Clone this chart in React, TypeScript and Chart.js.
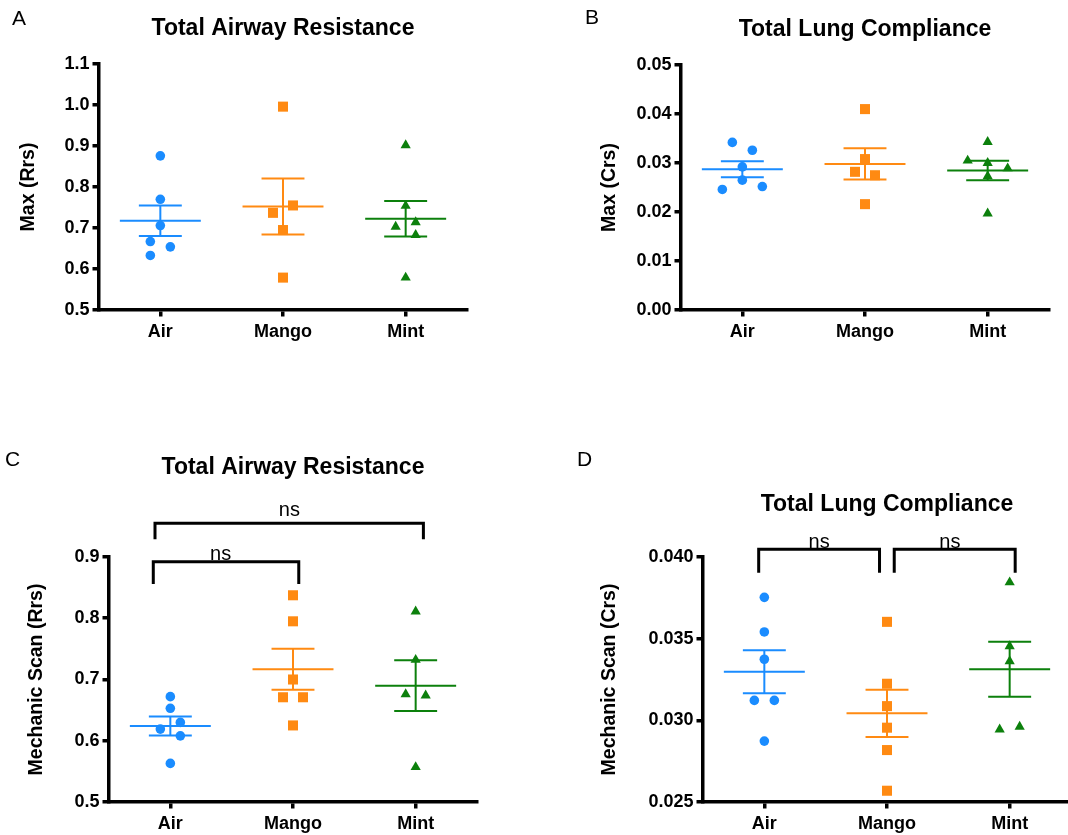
import React, { useEffect, useRef } from 'react';
import { Chart, registerables } from 'chart.js';

Chart.register(...registerables);

const FONT = '"Liberation Sans", Arial, Helvetica, sans-serif';
Chart.defaults.font.family = FONT;

// ---------- data ----------
const groups = ['Air', 'Mango', 'Mint'];

// A: Max (Rrs)
const aAir = [0.876, 0.770, 0.706, 0.654, 0.667, 0.633];
const aMango = [0.996, 0.755, 0.737, 0.695, 0.579];
const aMint = [0.902, 0.754, 0.714, 0.703, 0.683, 0.579];
const aTicks = [0.5, 0.6, 0.7, 0.8, 0.9, 1.0, 1.1];

// B: Max (Crs)
const bAir = [0.0326, 0.0342, 0.0292, 0.0265, 0.0246, 0.0252];
const bMango = [0.0410, 0.0308, 0.0275, 0.0282, 0.0216];
const bMint = [0.0343, 0.0300, 0.0305, 0.0289, 0.0273, 0.0197];
const bTicks = [0, 0.01, 0.02, 0.03, 0.04, 0.05];

// C: Mechanic Scan (Rrs)
const cAir = [0.672, 0.653, 0.630, 0.619, 0.608, 0.563];
const cMango = [0.8375, 0.795, 0.700, 0.671, 0.671, 0.625];
const cMint = [0.811, 0.732, 0.674, 0.676, 0.557];
const cTicks = [0.5, 0.6, 0.7, 0.8, 0.9];

// D: Mechanic Scan (Crs)
const dAir = [0.03753, 0.03541, 0.03374, 0.03122, 0.03122, 0.02873];
const dMango = [0.03603, 0.03224, 0.03087, 0.02955, 0.02818, 0.02569];
const dMint = [0.03845, 0.03454, 0.03362, 0.02961, 0.02944];
const dTicks = [0.025, 0.030, 0.035, 0.040];

// significance brackets (category index, y in data units)
const cBrackets = [
  { from: 0, fromShift: -0.125, to: 2, toShift: 0.063, y: 0.955, leg: 0.929, label: 'ns', labelAt: 0.97, labelY: 0.967 },
  { from: 0, fromShift: -0.139, to: 1, toShift: 0.047, y: 0.8923, leg: 0.8559, label: 'ns', labelAt: 0.41, labelY: 0.8951 },
];
const dBrackets = [
  { from: 0, fromShift: -0.046, to: 1, toShift: -0.061, y: 0.04047, leg: 0.03904, label: 'ns', labelAt: 0.447, labelY: 0.04053 },
  { from: 1, fromShift: 0.059, to: 2, toShift: 0.045, y: 0.04047, leg: 0.03904, label: 'ns', labelAt: 1.513, labelY: 0.04053 },
];

// ---------- styles ----------
const COLORS = ['#1a8cff', '#ff8a12', '#0c800c'];
const STYLES = ['circle', 'rect', 'triangle'];
const RADII = [4.8, 7.1, 5.9];

type Bracket = typeof cBrackets[number];
type Spec = {
  letter: string; title: string; yTitle: string;
  series: number[][]; ticks: number[]; decimals: number;
  canvas: { left: number; top: number; w: number; h: number };
  plot: { l: number; r: number; t: number; b: number };
  titleCY: number; yTitleCX: number; letterX: number; letterCY: number;
  brackets: Bracket[];
};

const panels: Spec[] = [
  {
    letter: 'A', title: 'Total Airway Resistance', yTitle: 'Max (Rrs)',
    series: [aAir, aMango, aMint], ticks: aTicks, decimals: 1,
    canvas: { left: 0, top: 0, w: 534, h: 420 }, plot: { l: 99, r: 467, t: 64, b: 310 },
    titleCY: 28.5, yTitleCX: 29, letterX: 12, letterCY: 19, brackets: [],
  },
  {
    letter: 'B', title: 'Total Lung Compliance', yTitle: 'Max (Crs)',
    series: [bAir, bMango, bMint], ticks: bTicks, decimals: 2,
    canvas: { left: 534, top: 0, w: 534, h: 420 }, plot: { l: 681, r: 1049, t: 65, b: 310 },
    titleCY: 29.5, yTitleCX: 610, letterX: 585, letterCY: 18, brackets: [],
  },
  {
    letter: 'C', title: 'Total Airway Resistance', yTitle: 'Mechanic Scan (Rrs)',
    series: [cAir, cMango, cMint], ticks: cTicks, decimals: 1,
    canvas: { left: 0, top: 420, w: 534, h: 415 }, plot: { l: 109, r: 477, t: 557, b: 802 },
    titleCY: 468, yTitleCX: 37, letterX: 5, letterCY: 460, brackets: cBrackets,
  },
  {
    letter: 'D', title: 'Total Lung Compliance', yTitle: 'Mechanic Scan (Crs)',
    series: [dAir, dMango, dMint], ticks: dTicks, decimals: 3,
    canvas: { left: 534, top: 420, w: 546, h: 415 }, plot: { l: 703, r: 1071, t: 557, b: 802 },
    titleCY: 504.5, yTitleCX: 610, letterX: 577, letterCY: 460, brackets: dBrackets,
  },
];

// ---------- helpers ----------
const mean = (v: number[]) => v.reduce((a, b) => a + b, 0) / v.length;
const sem = (v: number[]) => {
  const m = mean(v);
  const sd = Math.sqrt(v.reduce((a, b) => a + (b - m) * (b - m), 0) / (v.length - 1));
  return sd / Math.sqrt(v.length);
};

// simple bee-swarm: returns horizontal pixel offsets
function swarm(py: number[], T: number, spacing: number): number[] {
  const n = py.length;
  const slot: number[] = new Array(n).fill(0);
  const cands = [0, -1, 1, -2, 2, -3, 3];
  for (let i = 0; i < n; i++) {
    for (const c of cands) {
      let ok = true;
      for (let j = 0; j < i; j++) {
        if (slot[j] === c && Math.abs(py[j] - py[i]) < T) { ok = false; break; }
      }
      if (ok) { slot[i] = c; break; }
    }
  }
  const order = py.map((_, i) => i).sort((a, b) => py[a] - py[b]);
  const comps: number[][] = [];
  let cur: number[] = [];
  order.forEach((i, k) => {
    if (k > 0 && py[i] - py[order[k - 1]] >= T) { comps.push(cur); cur = []; }
    cur.push(i);
  });
  if (cur.length) comps.push(cur);
  const pos = slot.slice();
  comps.forEach((comp) => {
    const set = new Set(comp.map((i) => slot[i]));
    if (set.size === 2 && set.has(0) && (set.has(-1) || set.has(1))) {
      const side = set.has(-1) ? -1 : 1;
      comp.forEach((i) => { pos[i] = slot[i] === 0 ? -side * 0.5 : side * 0.5; });
    }
  });
  return pos.map((p) => p * spacing);
}

const MEAN_HALF = 0.33;
const CAP_HALF = 0.175;

function Panel({ spec }: { spec: Spec }) {
  const ref = useRef<HTMLCanvasElement>(null);
  const cv = spec.canvas;
  useEffect(() => {
    const canvas = ref.current;
    if (!canvas) return;
    const pl = spec.plot;
    const xAxisH = 36;
    const titleSize = 23;
    const titleLH = titleSize * 1.2;
    const tPadTop = spec.titleCY - cv.top - titleLH / 2;
    const tPadBottom = pl.t - cv.top - (tPadTop + titleLH);
    const yTitleSize = 19.5;
    const ytPad = spec.yTitleCX - cv.left - (yTitleSize * 1.2) / 2;

    const datasets: any[] = [];
    spec.series.forEach((vals, g) => {
      datasets.push({
        label: groups[g],
        data: vals.map((v) => ({ x: g, y: v })),
        pointStyle: STYLES[g],
        pointRadius: RADII[g],
        pointHoverRadius: RADII[g],
        backgroundColor: COLORS[g],
        borderColor: COLORS[g],
        borderWidth: 0,
        order: 0,
      });
    });
    spec.series.forEach((vals, g) => {
      const m = mean(vals);
      const s = sem(vals);
      datasets.push({
        label: groups[g] + ' mean ± SEM',
        data: [
          { x: g - MEAN_HALF, y: m }, { x: g + MEAN_HALF, y: m }, { x: g, y: null },
          { x: g - CAP_HALF, y: m + s }, { x: g + CAP_HALF, y: m + s }, { x: g, y: null },
          { x: g - CAP_HALF, y: m - s }, { x: g + CAP_HALF, y: m - s }, { x: g, y: null },
          { x: g, y: m + s }, { x: g, y: m - s },
        ],
        showLine: true,
        spanGaps: false,
        borderColor: COLORS[g],
        backgroundColor: COLORS[g],
        borderWidth: 2,
        pointRadius: 0,
        pointHoverRadius: 0,
        order: 1,
      });
    });

    const annot = {
      id: 'panelAnnot',
      afterDraw(chart: any) {
        const ctx = chart.ctx;
        ctx.save();
        ctx.fillStyle = '#000';
        ctx.font = `21px ${FONT}`;
        ctx.textAlign = 'left';
        ctx.textBaseline = 'middle';
        ctx.fillText(spec.letter, spec.letterX - cv.left, spec.letterCY - cv.top);
        const xs = chart.scales.x;
        const ys = chart.scales.y;
        ctx.strokeStyle = '#000';
        ctx.lineWidth = 3;
        ctx.lineCap = 'butt';
        ctx.lineJoin = 'miter';
        spec.brackets.forEach((b) => {
          const x1 = xs.getPixelForValue(b.from + b.fromShift);
          const x2 = xs.getPixelForValue(b.to + b.toShift);
          const yTop = ys.getPixelForValue(b.y);
          const yLeg = ys.getPixelForValue(b.leg);
          ctx.beginPath();
          ctx.moveTo(x1, yLeg);
          ctx.lineTo(x1, yTop);
          ctx.lineTo(x2, yTop);
          ctx.lineTo(x2, yLeg);
          ctx.stroke();
          ctx.font = `20px ${FONT}`;
          ctx.textAlign = 'center';
          ctx.textBaseline = 'alphabetic';
          ctx.fillText(b.label, xs.getPixelForValue(b.labelAt), ys.getPixelForValue(b.labelY));
        });
        ctx.restore();
      },
    };

    const axisGrid = {
      display: true, drawOnChartArea: false, drawTicks: true,
      tickLength: 6.5, color: '#000', lineWidth: 3.5,
    };
    const axisBorder = { display: true, color: '#000', width: 3.5 };
    const tickFont = { family: FONT, size: 18, weight: 'bold' as const };

    const chart = new Chart(canvas, {
      type: 'scatter',
      data: { datasets },
      options: {
        responsive: false,
        animation: false,
        events: [],
        layout: {
          padding: {
            left: 0, top: 0,
            right: cv.left + cv.w - pl.r,
            bottom: cv.top + cv.h - pl.b - xAxisH,
          },
        },
        plugins: {
          legend: { display: false },
          tooltip: { enabled: false },
          title: {
            display: true, text: spec.title, fullSize: false, color: '#000',
            font: { family: FONT, size: titleSize, weight: 'bold', lineHeight: 1.2 },
            padding: { top: tPadTop, bottom: tPadBottom },
          },
        },
        scales: {
          x: {
            type: 'linear', min: -0.5, max: 2.5,
            afterBuildTicks: (s: any) => { s.ticks = groups.map((_, i) => ({ value: i })); },
            afterFit: (s: any) => { s.height = xAxisH; },
            ticks: {
              callback: (v: any) => groups[Math.round(Number(v))] ?? '',
              font: tickFont, color: '#000', padding: 5, autoSkip: false, maxRotation: 0,
            },
            grid: axisGrid,
            border: axisBorder,
          },
          y: {
            type: 'linear', min: spec.ticks[0], max: spec.ticks[spec.ticks.length - 1],
            afterBuildTicks: (s: any) => { s.ticks = spec.ticks.map((v) => ({ value: v })); },
            afterFit: (s: any) => { s.width = pl.l - cv.left; },
            ticks: {
              callback: (v: any) => Number(v).toFixed(spec.decimals),
              font: tickFont, color: '#000', padding: 3,
            },
            grid: axisGrid,
            border: axisBorder,
            title: {
              display: true, text: spec.yTitle, color: '#000',
              font: { family: FONT, size: yTitleSize, weight: 'bold', lineHeight: 1.2 },
              padding: { top: ytPad, bottom: 0 },
            },
          },
        },
      } as any,
      plugins: [annot],
    });

    // bee-swarm offsets computed from the chart's own scales
    const xs: any = chart.scales.x;
    const ys: any = chart.scales.y;
    const pxPerX = xs.getPixelForValue(1) - xs.getPixelForValue(0);
    spec.series.forEach((vals, g) => {
      const py = vals.map((v) => ys.getPixelForValue(v));
      const offs = swarm(py, 10.5, 20);
      (chart.data.datasets[g] as any).data = vals.map((v, i) => ({ x: g + offs[i] / pxPerX, y: v }));
    });
    chart.update('none');

    return () => chart.destroy();
  }, []);

  return (
    <canvas
      ref={ref}
      width={cv.w}
      height={cv.h}
      style={{ position: 'absolute', left: cv.left, top: cv.top, width: cv.w, height: cv.h }}
    />
  );
}

export default function App() {
  return (
    <div
      style={{
        position: 'absolute', left: 0, top: 0, width: 1068, height: 835,
        overflow: 'hidden', background: '#fff',
      }}
    >
      {panels.map((p) => (
        <Panel key={p.letter} spec={p} />
      ))}
    </div>
  );
}
